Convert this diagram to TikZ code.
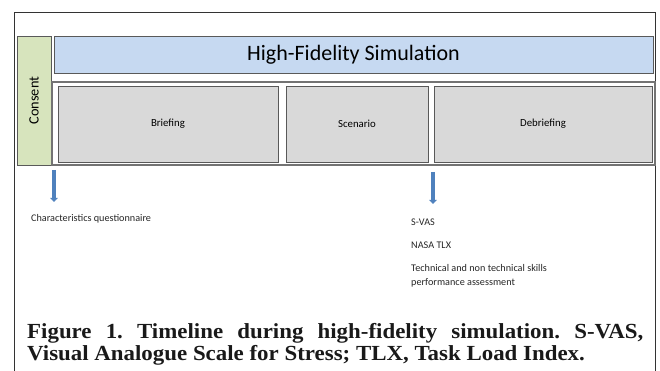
\documentclass[tikz,border=0pt]{standalone}
\usepackage{fontspec}
\setmainfont{Carlito}
\newfontfamily\capfont{Liberation Serif}
\usetikzlibrary{arrows.meta}
\frenchspacing
\definecolor{consentfill}{HTML}{D7E4BD}
\definecolor{hfsfill}{HTML}{C6D9F1}
\definecolor{phasefill}{HTML}{D9D9D9}
\definecolor{arrowblue}{HTML}{4F81BD}
\definecolor{framegray}{HTML}{595959}
\tikzset{
  phasebox/.style={draw=framegray, line width=0.9pt, fill=phasefill, inner sep=0pt, font=\fontsize{10.8}{12}\selectfont},
  smalltext/.style={anchor=base west, inner sep=0pt, font=\fontsize{10.2}{12}\selectfont, text=black!85},
  bluearrow/.style={draw=arrowblue, line width=3.6pt, -{Triangle[width=7.5pt,length=4pt]}},
  captext/.style={anchor=base west, inner sep=0pt, font=\capfont\bfseries\fontsize{21.5}{24}\selectfont, text=black!90},
}
\begin{document}
\begin{tikzpicture}[x=1pt,y=-1pt]
\useasboundingbox (0,0) rectangle (660,371);
% outer frame
\draw[black!80, line width=0.8pt] (14,371) -- (14,12) -- (655,12) -- (655,371);
% consent
\node[draw=framegray, line width=0.9pt, fill=consentfill, minimum width=34pt, minimum height=129pt, inner sep=0pt] (consent) at (34,100.5) {};
\node[rotate=90, font=\fontsize{14.3}{16}\selectfont] (consentlbl) at (consent.center) {Consent};
% high fidelity bar
\node[draw=framegray, line width=0.9pt, fill=hfsfill, minimum width=599pt, minimum height=37pt, inner sep=0pt, font=\fontsize{22}{24}\selectfont] (hfs) at (353.5,54.5) {High-Fidelity Simulation};
% container
\node[draw=black!55, line width=1.4pt, minimum width=603pt, minimum height=83pt, inner sep=0pt] (container) at (353.5,123.5) {};
% phases
\node[phasebox, minimum width=220pt, minimum height=76pt] (brief) at (168,124) {Briefing};
\node[phasebox, minimum width=142pt, minimum height=76pt] (scen) at (357,124) {Scenario};
\node[phasebox, minimum width=218pt, minimum height=76pt] (debrief) at (543,124) {Debriefing};
% arrows
\coordinate (a1s) at (54,170);
\coordinate (a1e) at (54,202);
\coordinate (a2s) at (433,172);
\coordinate (a2e) at (433,204);
\draw[bluearrow] (a1s) -- (a1e);
\draw[bluearrow] (a2s) -- (a2e);
% texts
\node[smalltext] (charq) at (31,221) {Characteristics questionnaire};
\node[smalltext] (svas) at (411,225) {S-VAS};
\node[smalltext] (nasa) at (411,248) {NASA TLX};
\node[smalltext] (tech) at (411,271) {Technical and non technical skills};
\node[smalltext] (perf) at (411,285) {performance assessment};
% caption
\node[captext] (cap1) at (27,338) {\scalebox{1.065}[1]{\makebox[578.4pt][s]{Figure 1. Timeline during high-fidelity simulation. S-VAS,}}};
\node[captext] (cap2) at (27,360) {\scalebox{1.065}[1]{Visual Analogue Scale for Stress; TLX, Task Load Index.}};
\end{tikzpicture}
\end{document}
